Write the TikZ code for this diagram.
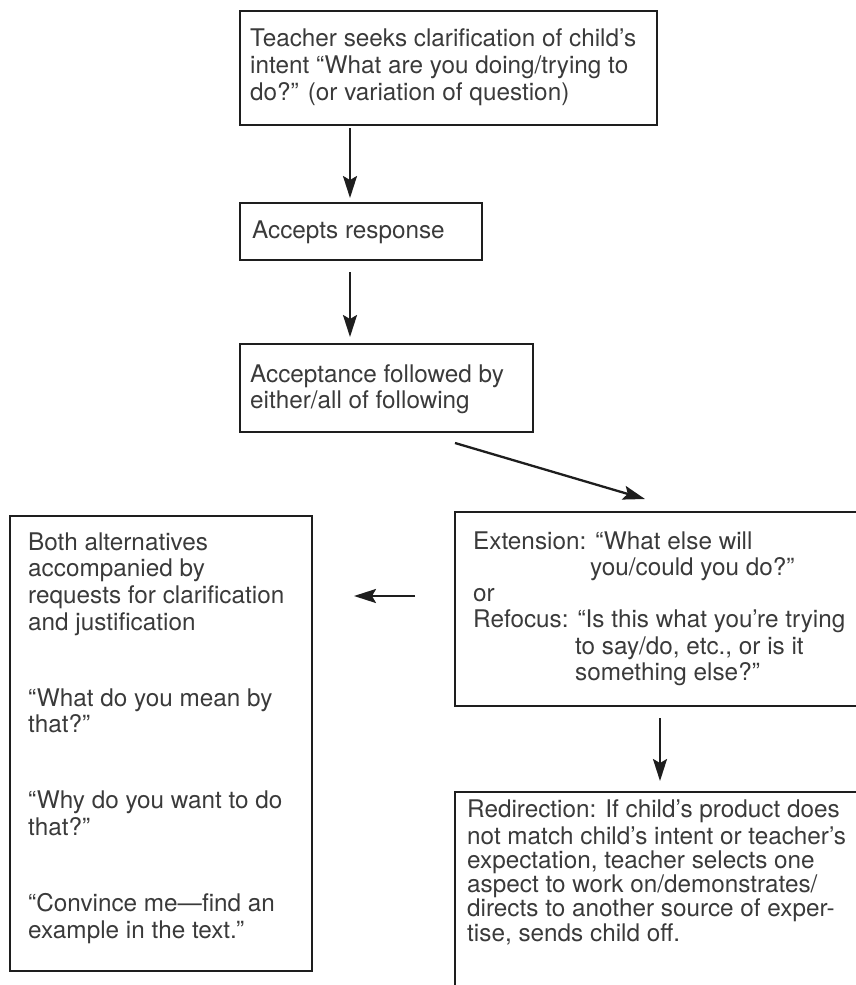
\documentclass[tikz,border=0pt]{standalone}
\usepackage{fontspec}
\setmainfont{TeX Gyre Heros}
\usetikzlibrary{arrows.meta}
\definecolor{boxcol}{HTML}{1E1E1E}
\definecolor{textcol}{HTML}{3A3A3A}
\begin{document}
\begin{tikzpicture}[x=1pt,y=-1pt,
  box/.style={draw=boxcol, line width=2.8pt, anchor=north west, inner sep=0pt, outer sep=0pt},
  openbox/.style={anchor=north west, inner sep=0pt, outer sep=0pt},
  edge/.style={draw=boxcol, line width=2.8pt, line cap=rect},
  txt/.style={anchor=north west, inner sep=0pt, align=left, text=textcol},
  fa/.style={font=\fontsize{24.3}{26.6}\selectfont},
  fb/.style={font=\fontsize{24.3}{27}\selectfont},
  fc/.style={font=\fontsize{24.3}{26.2}\selectfont},
  fd/.style={font=\fontsize{24.3}{24.3}\selectfont},
  arr/.style={draw=boxcol, line width=2.3pt, -{Stealth[length=22pt,width=14pt,inset=4pt]}}]
\useasboundingbox (0,0) rectangle (856,985);
\begin{scope}
\clip (0,0) rectangle (856,985);
% boxes
\node[box, minimum width=417pt, minimum height=114pt] (b1) at (240,11) {};
\node[box, minimum width=242pt, minimum height=57pt] (b2) at (240,203) {};
\node[box, minimum width=293pt, minimum height=88pt] (b3) at (240,344) {};
\node[openbox, minimum width=430pt, minimum height=194pt] (b4) at (455,512) {};
\draw[edge] (b4.north east) -- (b4.north west) -- (b4.south west) -- (b4.south east);
\node[openbox, minimum width=430pt, minimum height=215pt] (b5) at (455,792) {};
\draw[edge] (b5.north east) -- (b5.north west) -- (b5.south west);
\node[box, minimum width=302pt, minimum height=455pt] (b6) at (10,516) {};
\end{scope}

% texts
\node[txt, fb] (t1) at (250,27.1) {\strut Teacher seeks clarification of child’s\\intent “What are you doing/trying to\\do?” (or variation of question)};
\node[txt, fa] (t2) at (252,219.4) {\strut Accepts response};
\node[txt, fa] (t3) at (250,363.4) {\strut Acceptance followed by\\either/all of following};
\node[txt, fc] (t4) at (473,530.7) {\strut Extension: “What else will\\\hspace*{117pt}you/could you do?”\\or\\Refocus: “Is this what you’re trying\\\hspace*{102pt}to say/do, etc., or is it\\\hspace*{102pt}something else?”};
\node[txt, fd] (t5) at (467,800) {\strut Redirection: If child’s product does\\not match child’s intent or teacher’s\\expectation, teacher selects one\\aspect to work on/demonstrates/\\directs to another source of exper-\\tise, sends child off.};
\node[txt, fa] (t6) at (28,531.4) {\strut Both alternatives\\accompanied by\\requests for clarification\\and justification\\[49.5pt]“What do you mean by\\that?”\\[49.5pt]“Why do you want to do\\that?”\\[49.5pt]“Convince me—find an\\example in the text.”};

% connectors
\coordinate (a1s) at ([xshift=110pt,yshift=-3pt]b1.south west);
\coordinate (a1e) at ([xshift=110pt,yshift=5pt]b2.north west);
\draw[arr] (a1s) -- (a1e);
\coordinate (a2s) at ([xshift=110pt,yshift=-12pt]b2.south west);
\coordinate (a2e) at ([xshift=110pt,yshift=7pt]b3.north west);
\draw[arr] (a2s) -- (a2e);
\coordinate (a3s) at ([xshift=215pt,yshift=-11pt]b3.south west);
\coordinate (a3e) at ([xshift=190pt,yshift=13pt]b4.north west);
\draw[arr] (a3s) -- (a3e);
\coordinate (a4s) at ([xshift=-40pt,yshift=-84pt]b4.north west);
\coordinate (a4e) at ([xshift=42pt,yshift=-80pt]b6.north east);
\draw[arr] (a4s) -- (a4e);
\coordinate (a5s) at ([xshift=205pt,yshift=-12pt]b4.south west);
\coordinate (a5e) at ([xshift=205pt,yshift=11pt]b5.north west);
\draw[arr] (a5s) -- (a5e);
\end{tikzpicture}
\end{document}
